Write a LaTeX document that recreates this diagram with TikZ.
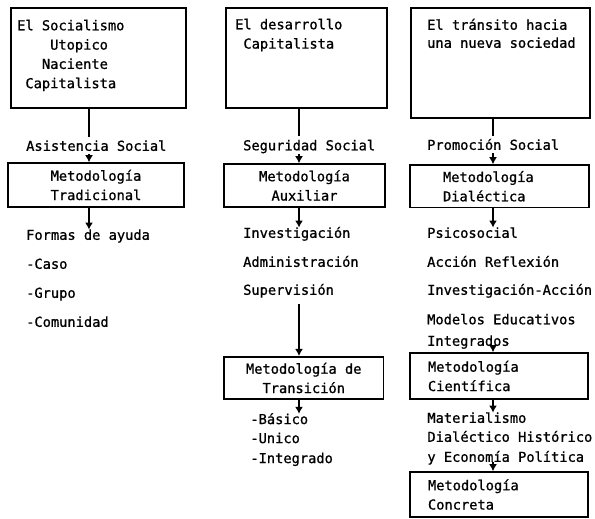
\documentclass[tikz,border=0pt]{standalone}
\usepackage{fontspec}
\newfontfamily\typewr[FakeBold=0.9]{DejaVu Sans Mono}
\usetikzlibrary{positioning, arrows.meta}

\begin{document}
\begin{tikzpicture}[x=1pt, y=1pt,
  every node/.style={font=\typewr\fontsize{13.7}{19.3}\selectfont},
  stagebox/.style={draw, line width=1.8pt, inner sep=0pt, anchor=north west},
  metbox/.style={draw, line width=1.6pt, inner ysep=0pt, align=center},
  item/.style={inner sep=0pt, text height=10pt, text depth=3pt},
  joinline/.style={line width=1.6pt},
  flow/.style={line width=1.6pt, -{Latex[length=7pt,width=8pt]}}]
  \useasboundingbox (0,0) rectangle (595,-519);
  \coordinate (ax1) at (89,0);
  \coordinate (ax2) at (299,0);
  \coordinate (ax3) at (493,0);

  % column 1
  \node[stagebox, minimum width=175pt, minimum height=100pt] (soc) at (10,-7) {};
  \node[inner sep=0pt, align=left, below right=12.6pt and 7pt of soc.north west] (soct) {El Socialismo\\~~~~Utopico\\~~~Naciente\\~Capitalista};
  \node[item, below right=42pt and 16pt of soc.south west, anchor=base west] (asist) {Asistencia Social};
  \node[metbox, minimum width=176pt, minimum height=44pt] (trad) at (96,-185) {Metodología\\Tradicional};
  \node[item, below=89pt of asist.base west, anchor=base west] (formas) {Formas de ayuda};
  \node[item, below=29pt of formas.base west, anchor=base west] (caso) {-Caso};
  \node[item, below=29pt of caso.base west, anchor=base west] (grupo) {-Grupo};
  \node[item, below=29pt of grupo.base west, anchor=base west] (comun) {-Comunidad};
  \draw[joinline] (soc.south -| ax1) -- ([yshift=4pt]asist.north -| ax1);
  \draw[flow] (asist.south -| ax1) -- (trad.north -| ax1);
  \draw[flow] (trad.south -| ax1) -- (formas.north -| ax1);

  % column 2
  \node[stagebox, minimum width=161pt, minimum height=100pt] (dev) at (225,-7) {};
  \node[inner sep=0pt, align=left, below right=11.6pt and 10pt of dev.north west] (devt) {El desarrollo\\~Capitalista};
  \node[item, below right=41.5pt and 18pt of dev.south west, anchor=base west] (segur) {Seguridad Social};
  \node[metbox, minimum width=161pt, minimum height=43pt] (aux) at (304.5,-185.5) {Metodología\\Auxiliar};
  \node[item, below=87.5pt of segur.base west, anchor=base west] (inv) {Investigación};
  \node[item, below=29pt of inv.base west, anchor=base west] (adm) {Administración};
  \node[item, below=28pt of adm.base west, anchor=base west] (sup) {Supervisión};
  \node[metbox, minimum width=159.5pt, minimum height=42.5pt] (trans) at (303.75,-378) {Metodología de\\Transición};
  \node[item, below right=24pt and 27pt of trans.south west, anchor=base west] (bas) {-Básico};
  \node[item, below=19pt of bas.base west, anchor=base west] (uni) {-Unico};
  \node[item, below=20pt of uni.base west, anchor=base west] (integ) {-Integrado};
  \draw[joinline] (dev.south -| ax2) -- ([yshift=4pt]segur.north -| ax2);
  \draw[flow] (segur.south -| ax2) -- (aux.north -| ax2);
  \draw[flow] (aux.south -| ax2) -- (inv.north -| ax2);
  \draw[flow] ([yshift=-6pt]sup.south -| ax2) -- (trans.north -| ax2);
  \draw[flow] (trans.south -| ax2) -- (bas.north -| ax2);

  % column 3
  \node[stagebox, minimum width=179pt, minimum height=110pt] (tran) at (410,-7) {};
  \node[inner sep=0pt, align=left, below right=11.6pt and 17pt of tran.north west] (trant) {El tránsito hacia\\[-1.3pt]una nueva sociedad};
  \node[item, below right=31pt and 17pt of tran.south west, anchor=base west] (prom) {Promoción Social};
  \node[metbox, align=left, text width=113pt, inner xsep=33pt, minimum height=42.5pt] (dial) at (499.5,-186.25) {Metodología\\Dialéctica};
  \node[item, below=88pt of prom.base west, anchor=base west] (psi) {Psicosocial};
  \node[item, below=29pt of psi.base west, anchor=base west] (acc) {Acción Reflexión};
  \node[item, below=28pt of acc.base west, anchor=base west] (invacc) {Investigación-Acción};
  \node[item, below=29.5pt of invacc.base west, anchor=base west] (mod) {Modelos Educativos};
  \node[item, below=21.5pt of mod.base west, anchor=base west] (integr) {Integrados};
  \node[metbox, align=left, text width=142pt, inner xsep=18pt, minimum height=46pt] (cien) at (499,-376) {Metodología\\Científica};
  \node[item, below right=23pt and 18pt of cien.south west, anchor=base west] (mat) {Materialismo};
  \node[item, below=19pt of mat.base west, anchor=base west] (dialh) {Dialéctico Histórico};
  \node[item, below=20pt of dialh.base west, anchor=base west] (econ) {y Economía Política};
  \node[metbox, align=left, text width=142pt, inner xsep=18pt, minimum height=45pt] (conc) at (499,-494.5) {Metodología\\Concreta};
  \draw[joinline] (tran.south -| ax3) -- ([yshift=4pt]prom.north -| ax3);
  \draw[flow] (prom.south -| ax3) -- (dial.north -| ax3);
  \draw[flow] (dial.south -| ax3) -- (psi.north -| ax3);
  \draw[flow] (integr.south -| ax3) -- (cien.north -| ax3);
  \draw[flow] (cien.south -| ax3) -- (mat.north -| ax3);
  \draw[flow] ([yshift=3pt]econ.south -| ax3) -- (conc.north -| ax3);
\end{tikzpicture}
\end{document}
